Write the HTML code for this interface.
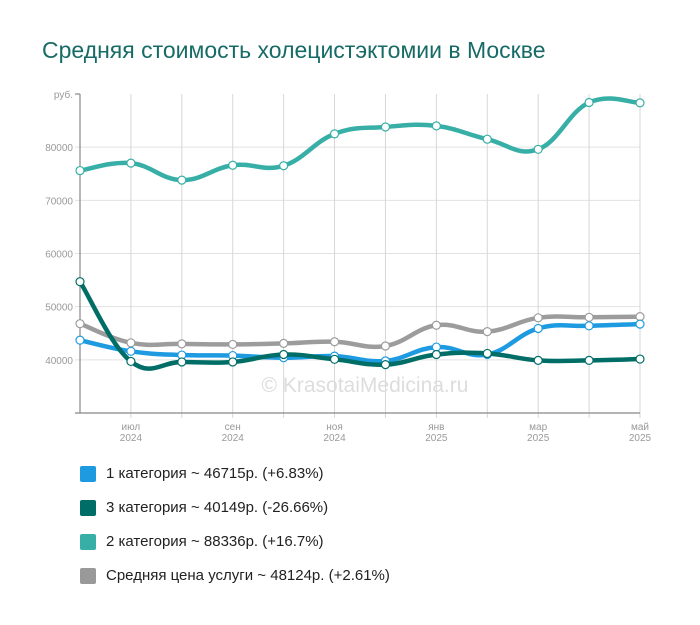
<!DOCTYPE html>
<html><head><meta charset="utf-8"><style>
body{margin:0;background:#fff;font-family:"Liberation Sans","Noto Sans CJK SC",sans-serif}
#wrap{position:relative;width:700px;height:625px;overflow:hidden}
h1{position:absolute;left:42px;top:37px;margin:0;font-size:23px;font-weight:normal;color:#176b66}
.leg{position:absolute;left:80px;font-size:15px;color:#222;display:flex;align-items:center}
.leg i{display:inline-block;width:16px;height:16px;border-radius:2px;margin-right:10px}
</style></head><body>
<div id="wrap">
<h1>Средняя стоимость холецистэктомии в Москве</h1>
<svg id="chart" width="700" height="625" style="position:absolute;left:0;top:0"></svg>
<div class="leg" style="top:465px"><i style="background:#1e9be0"></i>1 категория ~ 46715р. (+6.83%)</div>
<div class="leg" style="top:499px"><i style="background:#006e66"></i>3 категория ~ 40149р. (-26.66%)</div>
<div class="leg" style="top:533px"><i style="background:#38afa6"></i>2 категория ~ 88336р. (+16.7%)</div>
<div class="leg" style="top:567px"><i style="background:#999"></i>Средняя цена услуги ~ 48124р. (+2.61%)</div>
</div>
<script>
const months=["","июл","","сен","","ноя","","янв","","мар","","май"];
const years=["","2024","","2024","","2024","","2025","","2025","","2025"];
const yTicks=[40000,50000,60000,70000,80000];
const cat2=[75600,77000,73800,76600,76500,82500,83800,84000,81500,79600,88400,88336];
const avg=[46800,43200,43000,42900,43100,43400,42600,46500,45300,47900,48000,48124];
const cat1=[43700,41600,40900,40800,40400,40700,39800,42400,41000,45900,46400,46715];
const cat3=[54700,39700,39600,39600,41000,40100,39100,41000,41200,39900,39900,40149];
const svg=document.getElementById('chart');const NS='http://www.w3.org/2000/svg';
const x0=80,x1=640,yb=413,yMin=30000,yMax=90000,yTop=94;
const X=i=>x0+i*(x1-x0)/(months.length-1);
const Y=v=>yb-(v-yMin)/(yMax-yMin)*(yb-yTop);
function mk(t,a,p){const e=document.createElementNS(NS,t);for(const k in a)e.setAttribute(k,a[k]);(p||svg).appendChild(e);return e;}
yTicks.forEach(v=>{
const l=mk('line',{x1:x0-5,x2:x1,y1:Y(v),y2:Y(v),stroke:'#e2e2e2','stroke-width':1});


const t=mk('text',{x:x0-7,y:Y(v)+4,'text-anchor':'end','font-size':10,fill:'#999'});t.textContent=v;


});
const u=mk('text',{x:x0-7,y:yTop+4,'text-anchor':'end','font-size':10,fill:'#999'});u.textContent='руб.';


months.forEach((m,i)=>{
if(i>0){const g=mk('line',{x1:X(i),x2:X(i),y1:yTop,y2:yb+5,stroke:'#d6d6d6','stroke-width':1});

}
if(m){const t=mk('text',{x:X(i),y:yb+17,'text-anchor':'middle','font-size':10,fill:'#999'});t.textContent=m;


const t2=mk('text',{x:X(i),y:yb+28,'text-anchor':'middle','font-size':10,fill:'#999'});t2.textContent=years[i];

}
});
mk('line',{x1:x0,x2:x0,y1:yTop,y2:yb,stroke:'#888','stroke-width':1.2});
mk('line',{x1:x0-5,x2:x1,y1:yb,y2:yb,stroke:'#888','stroke-width':1.2});
mk('line',{x1:x0-5,x2:x0,y1:yTop,y2:yTop,stroke:'#888','stroke-width':1.2});
const wm=mk('text',{x:365,y:392,'text-anchor':'middle','font-size':21,fill:'#ddd'});wm.textContent='© KrasotaiMedicina.ru';


function path(vals){const p=vals.map((v,i)=>[X(i),Y(v)]);let d=`M${p[0][0]},${p[0][1]}`;
for(let i=0;i<p.length-1;i++){const a=p[i-1]||p[i],b=p[i],c=p[i+1],e=p[i+2]||c;const k=0.2;
d+=` C${b[0]+(c[0]-a[0])*k},${b[1]+(c[1]-a[1])*k} ${c[0]-(e[0]-b[0])*k},${c[1]-(e[1]-b[1])*k} ${c[0]},${c[1]}`;}return d;}
[[cat2,'#38afa6','series-cat2'],[avg,'#9c9c9c','series-average'],[cat1,'#1e9be0','series-cat1'],[cat3,'#006e66','series-cat3']].forEach(([vals,col,name])=>{
const pl=mk('path',{d:path(vals),fill:'none',stroke:col,'stroke-width':4.5,'stroke-linecap':'round'});


vals.forEach((v,i)=>{const c=mk('circle',{cx:X(i),cy:Y(v),r:4,fill:'#fff',stroke:col,'stroke-width':1.2});

});
});
</script>
</body></html>
